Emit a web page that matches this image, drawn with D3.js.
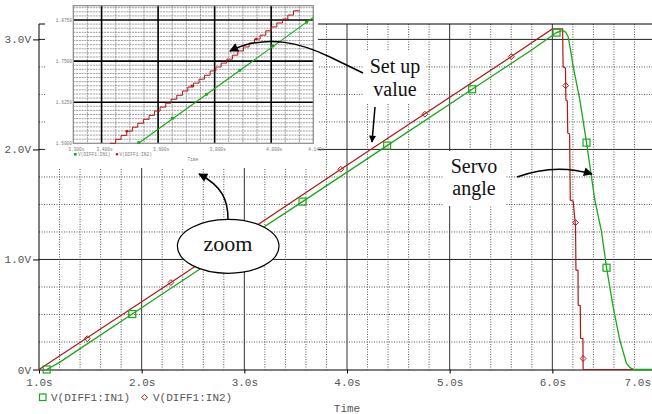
<!DOCTYPE html>
<html lang="en">
<head>
<meta charset="UTF-8">
<title>Set up value vs servo angle</title>
<script src="https://d3js.org/d3.v7.min.js"></script>
<style>
  body { margin: 0; background: #fff; }
  svg { display: block; }
  .tick-label { font-family: "Liberation Mono", "DejaVu Sans Mono", monospace; font-size: 11px; fill: #555; }
  .tiny { font-family: "Liberation Mono", "DejaVu Sans Mono", monospace; font-size: 4.5px; fill: #777; }
  .note { font-family: "Liberation Serif", "DejaVu Serif", serif; font-size: 20px; fill: #111; }
</style>
</head>
<body>
<div id="chart"></div>
<script>
// ---- main plot values ----
const timeTicks = [1, 2, 3, 4, 5, 6, 7];
const timeLabels = ["1.0s", "2.0s", "3.0s", "4.0s", "5.0s", "6.0s", "7.0s"];
const voltTicks = [0, 1, 2, 3];
const voltLabels = ["0V", "1.0V", "2.0V", "3.0V"];

// V(DIFF1:IN1) - servo angle (green)
const in1Time = [1.075, 1.20, 1.40, 1.908, 2.74, 3.567, 4.391, 5.219, 5.78, 6.00, 6.041, 6.08, 6.105, 6.13, 6.154, 6.177, 6.203, 6.268, 6.333, 6.414, 6.479, 6.528, 6.592, 6.657, 6.722, 6.76, 6.80, 7.0];
const in1Volt = [0, 0.065, 0.19, 0.504, 1.02, 1.526, 2.035, 2.547, 2.893, 3.036, 3.062, 3.076, 3.08, 3.065, 3.025, 2.905, 2.753, 2.45, 2.062, 1.54, 1.253, 0.925, 0.571, 0.268, 0.056, 0.015, 0, 0];
const in1MarkTime = [1.075, 1.908, 2.74, 3.567, 4.391, 5.219, 6.041, 6.333, 6.528];
const in1MarkVolt = [0, 0.504, 1.02, 1.526, 2.035, 2.547, 3.062, 2.062, 0.925];

// V(DIFF1:IN2) - set up value (red)
const in2Time = [1.0, 2.285, 3.94, 5.60, 6.00, 6.10, 6.105, 6.128, 6.132, 6.146, 6.150, 6.168, 6.175, 6.203, 6.226, 6.230, 6.250, 6.252, 6.272, 6.275, 6.298, 6.300, 7.0];
const in2Volt = [0, 0.79, 1.82, 2.844, 3.095, 3.095, 2.75, 2.74, 2.45, 2.44, 2.15, 2.14, 1.54, 1.53, 1.30, 0.905, 0.90, 0.586, 0.58, 0.284, 0.28, 0, 0];
const in2MarkTime = [1.47, 2.285, 3.10, 3.94, 4.759, 5.60, 6.13, 6.226, 6.30];
const in2MarkVolt = [0.28, 0.79, 1.30, 1.82, 2.32, 2.844, 2.58, 1.335, 0.10];

// ---- zoomed inset values ----
const zTimeTicks = [3.3, 3.4, 3.6, 3.8, 4.0, 4.149];
const zTimeLabels = ["3.300s", "3.400s", "3.600s", "3.800s", "4.000s", "4.149s"];
const zVoltTicks = [1.5, 1.625, 1.75, 1.875];
const zVoltLabels = ["1.5000", "1.6250", "1.7500", "1.8750"];

const zIn1Time = [3.531, 4.149];
const zIn1Volt = [1.5, 1.883];
const zIn1MarkTime = [3.531, 3.650, 3.771, 3.889, 4.006, 4.125];
const zIn1MarkVolt = [1.502, 1.576, 1.649, 1.722, 1.796, 1.868];

// staircase of the set up value (start of each step)
const zIn2Time = [3.430, 3.450, 3.469, 3.489, 3.509, 3.528, 3.548, 3.568, 3.587, 3.607, 3.627, 3.646, 3.666, 3.686, 3.705, 3.725, 3.745, 3.764, 3.784, 3.804, 3.823, 3.843, 3.863, 3.882, 3.902, 3.922, 3.941, 3.961, 3.981, 4.000, 4.020, 4.040, 4.059, 4.079, 4.101];
const zIn2Volt = [1.500, 1.512, 1.524, 1.537, 1.549, 1.561, 1.573, 1.585, 1.598, 1.610, 1.622, 1.634, 1.646, 1.659, 1.671, 1.683, 1.695, 1.707, 1.720, 1.732, 1.744, 1.756, 1.768, 1.781, 1.793, 1.805, 1.817, 1.829, 1.842, 1.854, 1.866, 1.878, 1.890, 1.903, 1.903];
const zIn2MarkTime = [3.489, 3.719, 3.947];
const zIn2MarkVolt = [1.537, 1.675, 1.817];

const GREEN = "#1aa81a", RED = "#b01818";
const W = 652, H = 414;

const svg = d3.select("#chart").append("svg").attr("width", W).attr("height", H);

svg.append("defs").selectAll("marker")
  .data([["ah", 11, 9], ["ahBig", 13, 9], ["ahSmall", 9, 7]])
  .join("marker")
  .attr("id", d => d[0])
  .attr("viewBox", "0 0 10 10")
  .attr("refX", 9).attr("refY", 5)
  .attr("markerWidth", d => d[1]).attr("markerHeight", d => d[2])
  .attr("markerUnits", "userSpaceOnUse")
  .attr("orient", "auto")
  .append("path").attr("d", "M0,0 L10,5 L0,10 z").attr("fill", "#000");

// ---- main plot ----
const x = d3.scaleLinear().domain([1, 7]).range([39, 655]);
const y = d3.scaleLinear().domain([0, 3.14]).range([369.5, 24]);
const plotTop = y(3.14), plotBottom = y(0);

const xMinor = x.ticks(30).filter(d => Math.abs(d - Math.round(d)) > 1e-6);
const yMinor = d3.range(0.25, 3.14, 0.25).filter(d => Math.abs(d - Math.round(d)) > 1e-6);

const grid = svg.append("g");
grid.selectAll(".vmin").data(xMinor).join("line")
  .attr("x1", d => x(d)).attr("x2", d => x(d)).attr("y1", plotTop).attr("y2", plotBottom)
  .attr("stroke", "#555").attr("stroke-dasharray", "1,1.5");
grid.selectAll(".hmin").data(yMinor).join("line")
  .attr("x1", x(1)).attr("x2", W).attr("y1", d => y(d)).attr("y2", d => y(d))
  .attr("stroke", "#555").attr("stroke-dasharray", "1,1.5");
grid.selectAll(".vmaj").data(timeTicks.slice(1)).join("line")
  .attr("x1", d => x(d)).attr("x2", d => x(d)).attr("y1", plotTop).attr("y2", plotBottom)
  .attr("stroke", "#333");
grid.selectAll(".hmaj").data(voltTicks.slice(1)).join("line")
  .attr("x1", x(1)).attr("x2", W).attr("y1", d => y(d)).attr("y2", d => y(d))
  .attr("stroke", "#222");
grid.append("line").attr("x1", x(1)).attr("x2", W).attr("y1", plotTop).attr("y2", plotTop).attr("stroke", "#000");

const xAxis = svg.append("g").attr("transform", `translate(0,${plotBottom})`)
  .call(d3.axisBottom(x).tickValues(timeTicks).tickSize(4).tickSizeOuter(0).tickPadding(5)
    .tickFormat((d, i) => timeLabels[i]));
const yAxis = svg.append("g").attr("transform", `translate(${x(1)},0)`)
  .call(d3.axisLeft(y).tickValues(voltTicks).tickSize(6).tickSizeOuter(0).tickPadding(2)
    .tickFormat((d, i) => voltLabels[i]));
yAxis.select(".domain").attr("d", `M0,${plotTop}V${plotBottom}`);
[xAxis, yAxis].forEach(a => {
  a.attr("font-family", null).attr("font-size", null);
  a.selectAll("text").attr("class", "tick-label").attr("fill", null);
  a.selectAll("line, path").attr("stroke", "#000");
});
// last time label is pushed left to stay inside the window
xAxis.selectAll(".tick text").filter((d, i) => i === timeTicks.length - 1)
  .attr("text-anchor", "end").attr("x", -4.5);

const line = d3.line().x(d => x(d[0])).y(d => y(d[1]));
const in1 = d3.zip(in1Time, in1Volt), in2 = d3.zip(in2Time, in2Volt);
svg.append("path").datum(in2).attr("d", line).attr("fill", "none").attr("stroke", RED).attr("stroke-width", 1.2);
svg.append("path").datum(in1).attr("d", line).attr("fill", "none").attr("stroke", GREEN).attr("stroke-width", 1.3);

svg.selectAll(".m1").data(d3.zip(in1MarkTime, in1MarkVolt)).join("rect")
  .attr("x", d => x(d[0]) - 3.5).attr("y", d => y(d[1]) - 3.5)
  .attr("width", 7).attr("height", 7)
  .attr("fill", "none").attr("stroke", GREEN).attr("stroke-width", 1.2);
const diamond = d3.symbol().type(d3.symbolDiamond2).size(22);
svg.selectAll(".m2").data(d3.zip(in2MarkTime, in2MarkVolt)).join("path")
  .attr("transform", d => `translate(${x(d[0])},${y(d[1])})`)
  .attr("d", diamond).attr("fill", "none").attr("stroke", RED).attr("stroke-width", 1);

// legend + axis title
const leg = svg.append("g");
leg.append("rect").attr("x", 39.5).attr("y", 394).attr("width", 6.5).attr("height", 6.5)
  .attr("fill", "none").attr("stroke", GREEN).attr("stroke-width", 1.2);
leg.append("text").attr("class", "tick-label").attr("x", 51).attr("y", 401).text("V(DIFF1:IN1)");
leg.append("path").attr("transform", "translate(144.5,397.3)").attr("d", diamond)
  .attr("fill", "none").attr("stroke", RED).attr("stroke-width", 1);
leg.append("text").attr("class", "tick-label").attr("x", 153).attr("y", 401).text("V(DIFF1:IN2)");
svg.append("text").attr("class", "tick-label").attr("x", 347).attr("y", 411.5)
  .attr("text-anchor", "middle").text("Time");

// ---- zoomed inset ----
const zx = d3.scaleLinear().domain([3.3, 4.149]).range([73.3, 313.3]);
const zy = d3.scaleLinear().domain([1.5, 1.9185]).range([143.3, 5.7]);
const inset = svg.append("g");
inset.append("rect").attr("x", 45).attr("y", 0).attr("width", 273).attr("height", 168).attr("fill", "#fff");

const zxMinor = d3.range(3.35, 4.149, 0.05).filter(d => !zTimeTicks.some(t => Math.abs(t - d) < 1e-6));
const zyMinor = d3.range(1.5125, 1.918, 0.0125).filter(d => !zVoltTicks.some(t => Math.abs(t - d) < 1e-6));
inset.selectAll(".zv").data(zxMinor).join("line")
  .attr("x1", d => zx(d)).attr("x2", d => zx(d)).attr("y1", zy.range()[1]).attr("y2", zy.range()[0])
  .attr("stroke", "#888").attr("stroke-width", 0.8).attr("stroke-dasharray", "2,0.8");
inset.selectAll(".zh").data(zyMinor).join("line")
  .attr("x1", zx.range()[0]).attr("x2", zx.range()[1]).attr("y1", d => zy(d)).attr("y2", d => zy(d))
  .attr("stroke", "#888").attr("stroke-width", 0.8).attr("stroke-dasharray", "2,0.8");
inset.selectAll(".zvM").data(zTimeTicks.slice(1, 5)).join("line")
  .attr("x1", d => zx(d)).attr("x2", d => zx(d)).attr("y1", zy.range()[1]).attr("y2", zy.range()[0])
  .attr("stroke", "#000").attr("stroke-width", 1.6);
inset.selectAll(".zhM").data(zVoltTicks.slice(1)).join("line")
  .attr("x1", zx.range()[0]).attr("x2", zx.range()[1]).attr("y1", d => zy(d)).attr("y2", d => zy(d))
  .attr("stroke", "#000").attr("stroke-width", 1.6);
inset.append("rect").attr("x", zx.range()[0]).attr("y", zy.range()[1])
  .attr("width", zx.range()[1] - zx.range()[0]).attr("height", zy.range()[0] - zy.range()[1])
  .attr("fill", "none").attr("stroke", "#888").attr("stroke-width", 1.2);

inset.selectAll(".zxl").data(zTimeTicks).join("text").attr("class", "tiny")
  .attr("x", d => zx(d) + 3).attr("y", 151).attr("text-anchor", "middle")
  .text((d, i) => zTimeLabels[i]);
inset.selectAll(".zyl").data(zVoltTicks).join("text").attr("class", "tiny")
  .attr("x", 72).attr("y", d => zy(d) + 1.5).attr("text-anchor", "end")
  .text((d, i) => zVoltLabels[i]);

const zline = d3.line().x(d => zx(d[0])).y(d => zy(d[1]));
const zstep = d3.line().x(d => zx(d[0])).y(d => zy(d[1])).curve(d3.curveStepAfter);
inset.append("path").datum(d3.zip(zIn2Time, zIn2Volt)).attr("d", zstep)
  .attr("fill", "none").attr("stroke", RED).attr("stroke-width", 1);
inset.append("path").datum(d3.zip(zIn1Time, zIn1Volt)).attr("d", zline)
  .attr("fill", "none").attr("stroke", GREEN).attr("stroke-width", 1.2);
inset.selectAll(".zm1").data(d3.zip(zIn1MarkTime, zIn1MarkVolt)).join("rect")
  .attr("x", d => zx(d[0]) - 1.4).attr("y", d => zy(d[1]) - 1.4)
  .attr("width", 2.8).attr("height", 2.8).attr("fill", GREEN);
inset.selectAll(".zm2").data(d3.zip(zIn2MarkTime, zIn2MarkVolt)).join("circle")
  .attr("cx", d => zx(d[0])).attr("cy", d => zy(d[1])).attr("r", 1.3).attr("fill", RED);

inset.append("rect").attr("x", 74).attr("y", 153).attr("width", 2.6).attr("height", 2.6).attr("fill", GREEN);
inset.append("text").attr("class", "tiny").attr("x", 78).attr("y", 156).text("V(DIFF1:IN1)");
inset.append("circle").attr("cx", 117).attr("cy", 154.3).attr("r", 1.2).attr("fill", RED);
inset.append("text").attr("class", "tiny").attr("x", 119.5).attr("y", 156).text("V(DIFF1:IN2)");
inset.append("text").attr("class", "tiny").attr("x", 193).attr("y", 161).attr("text-anchor", "middle").text("Time");

// ---- annotations ----
const notes = svg.append("g");
notes.append("rect").attr("x", 363).attr("y", 51).attr("width", 63).attr("height", 53).attr("fill", "#fff");
notes.append("rect").attr("x", 443).attr("y", 151).attr("width", 62).attr("height", 55).attr("fill", "#fff");
notes.append("text").attr("class", "note").attr("x", 395).attr("y", 73).attr("text-anchor", "middle").text("Set up");
notes.append("text").attr("class", "note").attr("x", 395).attr("y", 96).attr("text-anchor", "middle").text("value");
notes.append("text").attr("class", "note").attr("x", 474).attr("y", 173).attr("text-anchor", "middle").text("Servo");
notes.append("text").attr("class", "note").attr("x", 474).attr("y", 195).attr("text-anchor", "middle").text("angle");

notes.append("path").attr("d", "M363,73 L330,57 C305,45 268,32 230,51")
  .attr("fill", "none").attr("stroke", "#000").attr("stroke-width", 1.5).attr("marker-end", "url(#ah)");
notes.append("path").attr("d", "M375,107 L372,142")
  .attr("fill", "none").attr("stroke", "#000").attr("stroke-width", 1.5).attr("marker-end", "url(#ahSmall)");
notes.append("path").attr("d", "M517,177 Q555,163 592,174")
  .attr("fill", "none").attr("stroke", "#000").attr("stroke-width", 1.5).attr("marker-end", "url(#ahBig)");

notes.append("ellipse").attr("cx", 228.2).attr("cy", 246.3).attr("rx", 50.8).attr("ry", 27)
  .attr("fill", "#fff").attr("stroke", "#000").attr("stroke-width", 1.2);
notes.append("text").attr("class", "note").attr("x", 228).attr("y", 251).attr("text-anchor", "middle")
  .style("font-size", "22px").text("zoom");
notes.append("path").attr("d", "M228,219 C228,200 222,186 199,174")
  .attr("fill", "none").attr("stroke", "#000").attr("stroke-width", 1.5).attr("marker-end", "url(#ah)");
</script>
</body>
</html>
